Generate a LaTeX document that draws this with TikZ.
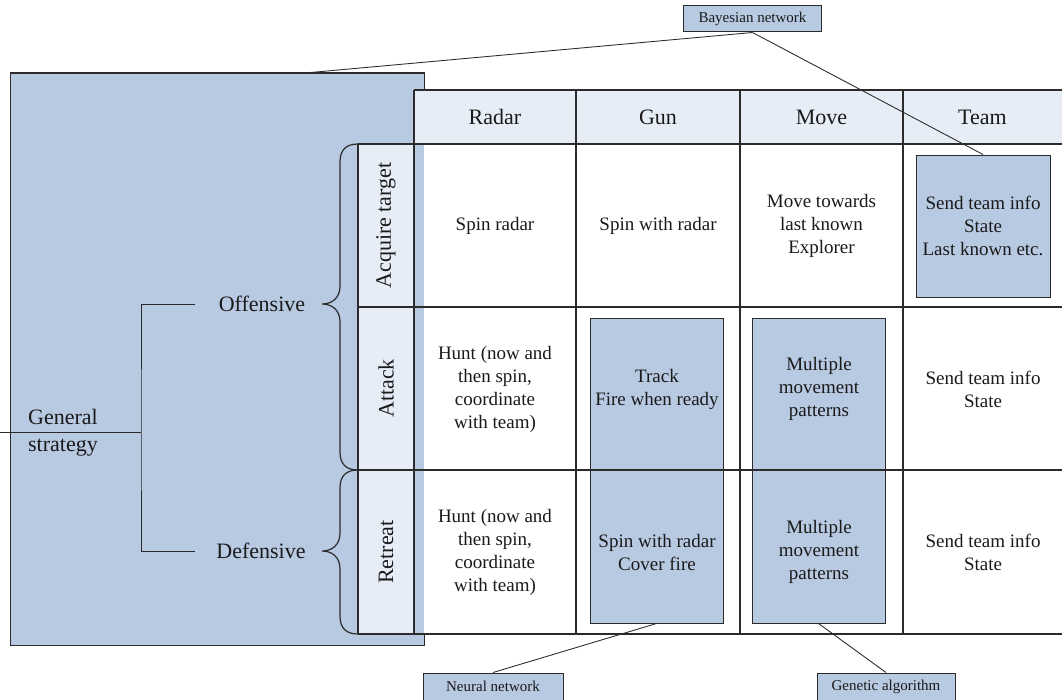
\documentclass[tikz,border=0pt]{standalone}
\usepackage{fontspec}
\setmainfont{Liberation Serif}
\usetikzlibrary{fit,calc}
\definecolor{bfill}{HTML}{B8C9E2}
\definecolor{lfill}{HTML}{E7EDF7}
\definecolor{ln}{HTML}{2B2B2B}
\definecolor{tx}{HTML}{1A1A1A}
\begin{document}
\begin{tikzpicture}[x=0.75pt,y=-0.75pt,
  box/.style={draw=ln, line width=0.75pt, fill=bfill, inner sep=0pt},
  grid/.style={draw=ln, line width=1.1pt},
  cell/.style={text=tx, align=center, font=\fontsize{14.25}{17.25}\selectfont, inner sep=0pt},
  head/.style={text=tx, font=\fontsize{16.5}{20}\selectfont, inner sep=0pt},
  lab/.style={text=tx, font=\fontsize{16.5}{20.25}\selectfont, inner sep=0pt},
  call/.style={draw=ln, line width=0.75pt, fill=bfill, text=tx, font=\fontsize{11.25}{13}\selectfont, inner sep=0pt},
  conn/.style={draw=ln, line width=0.65pt},
  bracestyle/.style={draw=ln, line width=0.9pt}]

\useasboundingbox (0,0) rectangle (1062,699);
\fill[white] (0,0) rectangle (1062,699);

% big background panel
\node[box, fit={(10,73) (424,645)}] (big) {};

% table fills
\fill[lfill] (414,90) rectangle (1062,144);
\fill[white] (424,144) rectangle (1062,634);
\fill[lfill] (358,144) rectangle (414,634);

% highlighted boxes
\node[box, fit={(916,155) (1050,297)}] (teambox) {};
\node[box, fit={(590,318) (723,623)}] (gunbox) {};
\node[box, fit={(752,318) (885,623)}] (movebox) {};

% grid
\draw[grid] (414,90) -- (1062,90);
\draw[grid] (358,144) -- (1062,144);
\draw[grid] (358,307) -- (1062,307);
\draw[grid] (358,470) -- (1062,470);
\draw[grid] (358,634) -- (1062,634);
\draw[grid] (358,144) -- (358,634);
\draw[grid] (414,90) -- (414,634);
\foreach \x in {576,740,903} \draw[grid] (\x,90) -- (\x,634);

% braces
\draw[bracestyle] (358,144) .. controls (346,144) and (340,150) .. (340,162) -- (340,286)
  .. controls (340,298) and (332,304) .. (322,304)
  .. controls (332,304) and (340,310) .. (340,322) -- (340,452)
  .. controls (340,464) and (346,470) .. (358,470);
\draw[bracestyle] (358,470) .. controls (346,470) and (340,476) .. (340,488) -- (340,533)
  .. controls (340,545) and (332,551) .. (322,551)
  .. controls (332,551) and (340,557) .. (340,569) -- (340,616)
  .. controls (340,628) and (346,634) .. (358,634);

% row labels
\node[lab, rotate=90] (rAcq) at (386,225.5) {Acquire target};
\node[lab, rotate=90] (rAtt) at (386,388.5) {Attack};
\node[lab, rotate=90] (rRet) at (386,552) {Retreat};

% left tree
\node[lab, align=left] (gs) at (63,433) {General\\strategy};
\node[lab] (off) at (262,304) {Offensive};
\node[lab] (def) at (261,551) {Defensive};
\coordinate (j) at (141,432);
\coordinate (gsin) at (0,432);
\coordinate (offin) at (195,304);
\coordinate (defin) at (195,551);
\draw[conn] (gsin) -- (j);
\draw[conn] (offin) -| (j) |- (defin);

% headers
\node[head] (hRadar) at (495,117) {Radar};
\node[head] (hGun) at (658,117) {Gun};
\node[head] (hMove) at (821.5,117) {Move};
\node[head] (hTeam) at (982.5,117) {Team};

% acquire row
\node[cell] (c11) at (495,225.5) {Spin radar};
\node[cell] (c12) at (658,225.5) {Spin with radar};
\node[cell] (c13) at (821.5,225.5) {Move towards\\last known\\Explorer};
\node[cell] (c14) at (983,225.5) {Send team info\\State\\Last known etc.};
% attack row
\node[cell] (c21) at (495,389) {Hunt (now and\\then spin,\\coordinate\\with team)};
\node[cell] (c22) at (657,389) {Track\\Fire when ready};
\node[cell] (c23) at (819,389) {Multiple\\movement\\patterns};
\node[cell] (c24) at (983,389) {Send team info\\State};
% retreat row
\node[cell] (c31) at (495,552) {Hunt (now and\\then spin,\\coordinate\\with team)};
\node[cell] (c32) at (657,552) {Spin with radar\\Cover fire};
\node[cell] (c33) at (819,552) {Multiple\\movement\\patterns};
\node[cell] (c34) at (983,552) {Send team info\\State};

% callouts
\node[call, minimum width=104pt, minimum height=19.5pt] (bn) at (752.5,19) {Bayesian network};
\node[call, minimum width=105pt, minimum height=20.25pt] (nn) at (493,686.5) {Neural network};
\node[call, minimum width=103.5pt, minimum height=20.25pt] (ga) at (886,686.5) {Genetic algorithm};
\coordinate (bigtop) at (305,73);
\draw[conn] (bn.south) -- (bigtop);
\draw[conn] (bn.south) -- (teambox.north);
\draw[conn] (gunbox.south) -- (nn.north);
\draw[conn] (movebox.south) -- (ga.north);
\end{tikzpicture}
\end{document}
